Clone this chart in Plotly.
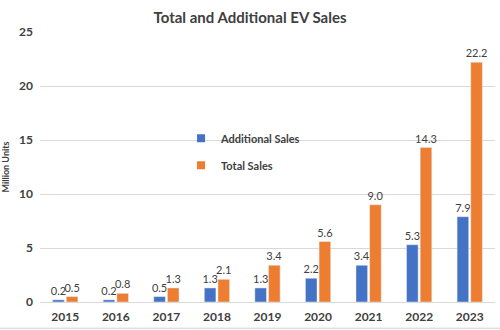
import plotly.graph_objects as go

years = ["2015", "2016", "2017", "2018", "2019", "2020", "2021", "2022", "2023"]
additional_sales = [0.2, 0.2, 0.5, 1.3, 1.3, 2.2, 3.4, 5.3, 7.9]
total_sales = [0.5, 0.8, 1.3, 2.1, 3.4, 5.6, 9.0, 14.3, 22.2]
y_ticks = [0, 5, 10, 15, 20, 25]
series_names = ["Additional Sales", "Total Sales"]
colors = ["#4472C4", "#ED7D31"]

FONT = "Lato, 'Open Sans', sans-serif"
fig = go.Figure()
for name, vals, col in zip(series_names, [additional_sales, total_sales], colors):
    fig.add_trace(go.Bar(
        x=years, y=vals, name=name, showlegend=False,
        marker_color=col,
        text=[f"{v:.1f}" for v in vals], textposition="outside", constraintext="none",
        textfont=dict(size=11, color="#404040", family=FONT), cliponaxis=False,
    ))
for name, col in zip(series_names, colors):
    fig.add_trace(go.Scatter(
        x=[None], y=[None], mode="markers", name=name, legendgroup=name,
        marker=dict(symbol="square", size=8, color=col),
    ))
fig.add_shape(type="line", xref="paper", yref="paper", x0=-0.1, x1=1.02,
              y0=-0.097, y1=-0.097, line=dict(color="#D0D0D0", width=1))
fig.update_layout(
    width=500, height=330,
    margin=dict(l=40, r=5, t=32, b=28),
    paper_bgcolor="white", plot_bgcolor="white",
    barmode="group", bargap=0.46, bargroupgap=0.15,
    font=dict(family=FONT, color="#404040"),
    title=dict(text="<b>Total and Additional EV Sales</b>", x=0.5, xanchor="center",
               y=0.945, yanchor="middle", font=dict(size=15, color="#404040")),
    legend=dict(x=0.31, y=0.66, xanchor="left", yanchor="top",
                font=dict(size=11, color="#404040", family=FONT, weight="bold"),
                tracegroupgap=8, bgcolor="rgba(0,0,0,0)", itemwidth=30),
    xaxis=dict(showgrid=False, showline=False, ticks="", ticklabelstandoff=6,
               tickfont=dict(size=12, color="#404040", family=FONT, weight="bold")),
    yaxis=dict(range=[0, 25], tickvals=y_ticks, showgrid=True, gridcolor="#D9D9D9",
               zeroline=True, zerolinecolor="#D9D9D9", zerolinewidth=1,
               ticklabelstandoff=6,
               tickfont=dict(size=12, color="#404040", family=FONT, weight="bold"),
               title=dict(text="Million Units", font=dict(size=9, color="#404040", weight="bold"), standoff=8)),
)
fig.write_html("out.html")
